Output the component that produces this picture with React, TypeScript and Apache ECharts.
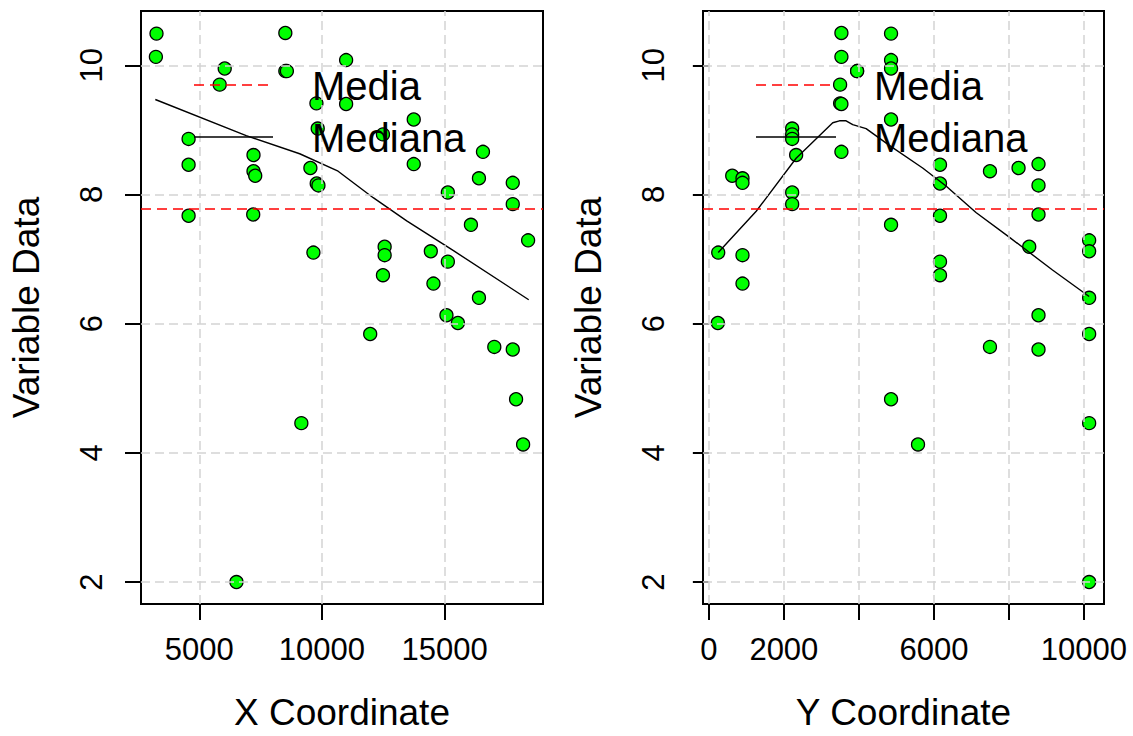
import React, { useEffect, useRef } from "react";
import * as echarts from "echarts";

// Observations: X coordinate, Y coordinate and the variable value
const xCoord = [
  3253, 8507, 3228, 10986, 6035, 8507, 8570, 5831, 9775, 10986,
  13744, 9828, 12488, 4562, 16567, 7209, 4562, 13744, 9529, 7209,
  7279, 16403, 17782, 9787, 9857, 15135, 17782, 4562, 7197, 16076,
  18408, 9652, 12557, 12557, 14440, 15135, 12488, 14547, 16403, 15078,
  15544, 11968, 17029, 17782, 17917, 18204, 9160, 6514,
];
const yCoord = [
  4857, 3534, 3534, 4857, 4857, 3952, 3952, 3499, 3499, 3534,
  4857, 2221, 2221, 2221, 3534, 2327, 6162, 8788, 8256, 7494,
  623, 897, 897, 6162, 8788, 2221, 2221, 6162, 8788, 4857,
  10138, 250, 8541, 897, 10138, 6162, 6162, 897, 10138, 8788,
  240, 10138, 7494, 8788, 4857, 5576, 10138, 10138,
];
const variableData = [
  10.49, 10.5, 10.13, 10.08, 9.95, 9.91, 9.91, 9.7, 9.41, 9.4,
  9.16, 9.02, 8.93, 8.86, 8.66, 8.61, 8.46, 8.47, 8.41, 8.36,
  8.29, 8.25, 8.18, 8.17, 8.14, 8.03, 7.85, 7.67, 7.69, 7.53,
  7.29, 7.1, 7.19, 7.06, 7.12, 6.96, 6.75, 6.62, 6.4, 6.13,
  6.01, 5.84, 5.64, 5.6, 4.83, 4.13, 4.46, 2.0,
];

// Median (smoothed) curves
const medianXPos = [3204, 6911, 9092, 10659, 12091, 13457, 15364, 18433];
const medianXVal = [9.47, 8.91, 8.63, 8.36, 7.95, 7.59, 7.13, 6.37];
const medianYPos = [250, 1262, 2327, 3303, 3481, 3659, 3835, 4192, 4812, 5699, 6322, 7121, 8008, 9161, 10138];
const medianYVal = [7.1, 7.74, 8.56, 9.11, 9.14, 9.14, 9.08, 9.02, 8.76, 8.41, 8.13, 7.72, 7.34, 6.83, 6.42];

// Axis ticks and labels
const yTicks = [2, 4, 6, 8, 10];
const xTicksLeft = [5000, 10000, 15000];
const xTicksRight = [0, 2000, 4000, 6000, 8000, 10000];
const xLabelsRight = [0, 2000, 6000, 10000];

const legendLabels = ["Media", "Mediana"];
const axisTitles = { x1: "X Coordinate", x2: "Y Coordinate", y: "Variable Data" };

const FONT = "Liberation Sans, Arial, Helvetica, sans-serif";

function rRange(arr: number[]): [number, number] {
  const lo = Math.min(...arr);
  const hi = Math.max(...arr);
  const d = (hi - lo) * 0.04;
  return [lo - d, hi + d];
}

export default function App() {
  const ref = useRef<HTMLDivElement>(null);
  useEffect(() => {
    if (!ref.current) return;
    const chart = echarts.init(ref.current, undefined, { renderer: "svg" });
    const mean = variableData.reduce((a, b) => a + b, 0) / variableData.length;
    const [yMin, yMax] = rRange(variableData);
    const [x1Min, x1Max] = rRange(xCoord);
    const [x2Min, x2Max] = rRange(yCoord);

    const gridLineStyle = { color: "#D3D3D3", type: [9, 5] as any, width: 1.5 };

    const makeX = (idx: number, min: number, max: number, ticks: number[], labels: number[], name: string) => ({
      type: "value",
      gridIndex: idx,
      min,
      max,
      name,
      nameLocation: "middle",
      nameGap: 90,
      nameTextStyle: { fontSize: 37, fontFamily: FONT, color: "#000" },
      axisLine: { show: false },
      splitLine: { show: false },
      axisTick: {
        show: true,
        length: 16,
        customValues: ticks,
        lineStyle: { color: "#000", width: 2 },
      },
      axisLabel: {
        customValues: labels,
        formatter: (v: number) => String(v),
        fontSize: 31,
        fontFamily: FONT,
        color: "#000",
        margin: 30,
      },
    });
    const makeY = (idx: number) => ({
      type: "value",
      gridIndex: idx,
      min: yMin,
      max: yMax,
      name: axisTitles.y,
      nameLocation: "middle",
      nameGap: 96,
      nameTextStyle: { fontSize: 37, fontFamily: FONT, color: "#000" },
      axisLine: { show: false },
      splitLine: { show: false },
      axisTick: {
        show: true,
        length: 16,
        customValues: yTicks,
        lineStyle: { color: "#000", width: 2 },
      },
      axisLabel: {
        customValues: yTicks,
        formatter: (v: number) => String(v),
        rotate: 90,
        fontSize: 31,
        fontFamily: FONT,
        color: "#000",
        margin: 34,
      },
    });

    const gridSeries = (idx: number, xt: number[]) => ({
      type: "line",
      xAxisIndex: idx,
      yAxisIndex: idx,
      data: [],
      z: 1,
      silent: true,
      markLine: {
        silent: true,
        symbol: "none",
        label: { show: false },
        lineStyle: gridLineStyle,
        data: [...xt.map((v) => ({ xAxis: v })), ...yTicks.map((v) => ({ yAxis: v }))],
      },
    });
    const meanSeries = (idx: number) => ({
      type: "line",
      xAxisIndex: idx,
      yAxisIndex: idx,
      data: [],
      z: 2,
      silent: true,
      markLine: {
        silent: true,
        symbol: "none",
        label: { show: false },
        lineStyle: { color: "#FF0000", type: [10, 6] as any, width: 1.5 },
        data: [{ yAxis: mean }],
      },
    });
    const scatter = (idx: number, xs: number[]) => ({
      type: "scatter",
      xAxisIndex: idx,
      yAxisIndex: idx,
      z: 3,
      symbolSize: 13,
      itemStyle: { color: "#00FF00", borderColor: "#000", borderWidth: 1.3, opacity: 1 },
      data: xs.map((x, i) => [x, variableData[i]]),
    });
    const curve = (idx: number, xs: number[], ys: number[]) => ({
      type: "line",
      xAxisIndex: idx,
      yAxisIndex: idx,
      z: 4,
      symbol: "none",
      lineStyle: { color: "#000", width: 1.4 },
      data: xs.map((x, i) => [x, ys[i]]),
    });

    const legend = (lineX1: number, lineX2: number, textX: number) => [
      {
        type: "line",
        z: 100,
        shape: { x1: lineX1, y1: 85, x2: lineX2, y2: 85 },
        style: { stroke: "#FF0000", lineWidth: 1.5, lineDash: [10, 6] },
      },
      {
        type: "line",
        z: 100,
        shape: { x1: lineX1, y1: 137, x2: lineX2, y2: 137 },
        style: { stroke: "#000", lineWidth: 1.4 },
      },
      {
        type: "text",
        z: 100,
        x: textX,
        y: 86,
        style: { text: legendLabels[0], fontSize: 40, fontFamily: FONT, fill: "#000", verticalAlign: "middle" },
      },
      {
        type: "text",
        z: 100,
        x: textX,
        y: 138,
        style: { text: legendLabels[1], fontSize: 40, fontFamily: FONT, fill: "#000", verticalAlign: "middle" },
      },
    ];

    chart.setOption({
      animation: false,
      backgroundColor: "#fff",
      grid: [
        { left: 141, top: 11, width: 402, height: 600, show: true, borderColor: "#000", borderWidth: 2, backgroundColor: "transparent" },
        { left: 703, top: 11, width: 401, height: 600, show: true, borderColor: "#000", borderWidth: 2, backgroundColor: "transparent" },
      ],
      xAxis: [
        makeX(0, x1Min, x1Max, xTicksLeft, xTicksLeft, axisTitles.x1),
        makeX(1, x2Min, x2Max, xTicksRight, xLabelsRight, axisTitles.x2),
      ],
      yAxis: [makeY(0), makeY(1)],
      series: [
        gridSeries(0, xTicksLeft),
        gridSeries(1, xTicksRight),
        meanSeries(0),
        meanSeries(1),
        scatter(0, xCoord),
        scatter(1, yCoord),
        curve(0, medianXPos, medianXVal),
        curve(1, medianYPos, medianYVal),
      ],
      graphic: [...legend(194, 273, 312), ...legend(756, 836, 874)],
    });
    return () => chart.dispose();
  }, []);
  return (
    <div
      ref={ref}
      style={{ position: "fixed", left: 0, top: 0, width: 1133, height: 736, background: "#fff" }}
    />
  );
}
